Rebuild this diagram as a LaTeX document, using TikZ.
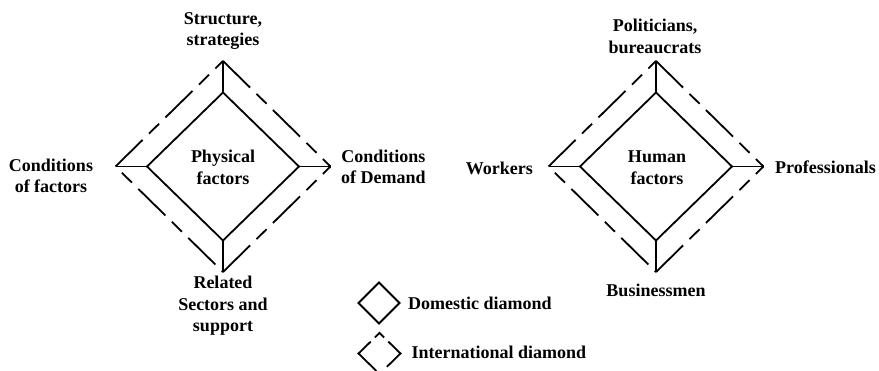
\documentclass[tikz,border=0pt]{standalone}
\usepackage{fontspec}
\setmainfont{Liberation Serif}
\usetikzlibrary{calc}
\begin{document}
\begin{tikzpicture}[x=1pt,y=-1pt,
  lbl/.style={font=\fontsize{18}{21.5}\selectfont\bfseries, inner sep=0pt, align=center},
  solidline/.style={line width=1.8pt, line join=miter, line cap=butt},
  dashline/.style={line width=1.8pt, line cap=butt, dash pattern=on 38pt off 9pt on 14pt off 9pt},
  dashgap/.style={dashline, dash phase=38pt},
  smalldash/.style={line width=1.8pt, line join=miter}]
\useasboundingbox (0,0) rectangle (879,371);

% ---- diamond of physical factors ----
\coordinate (p-it) at (223,92.5);
\coordinate (p-ir) at (299,166.5);
\coordinate (p-ib) at (223,240.5);
\coordinate (p-il) at (147,166.5);
\coordinate (p-ot) at (223,61);
\coordinate (p-or) at (330.5,166.5);
\coordinate (p-ob) at (223,272);
\coordinate (p-ol) at (115.5,166.5);
\draw[solidline] (p-it) -- (p-ir) -- (p-ib) -- (p-il) -- cycle;
\draw[solidline] (p-it) -- (p-ot);
\draw[solidline] (p-ir) -- (p-or);
\draw[solidline] (p-ib) -- (p-ob);
\draw[solidline] (p-il) -- (p-ol);
\draw[dashline] (p-ol) -- (p-ot);
\draw[dashline] (p-ot) -- (p-or);
\draw[dashline] (p-ob) -- (p-or);
\draw[dashgap]  (p-ol) -- (p-ob);

\node[lbl] (p-center) at (223,167.5) {Physical\\factors};
\node[lbl] (p-top) at (223,31) {Structure,\\strategies};
\node[lbl] (p-left) at (51,176) {Conditions\\of factors};
\node[lbl, anchor=west] (p-right) at (341,167) {Conditions\\of Demand};
\node[lbl] (p-bottom) at (223,306) {Related\\Sectors and\\support};

% ---- diamond of human factors ----
\coordinate (h-it) at (656,92.5);
\coordinate (h-ir) at (732,166.5);
\coordinate (h-ib) at (656,240.5);
\coordinate (h-il) at (580,166.5);
\coordinate (h-ot) at (656,61);
\coordinate (h-or) at (763.5,166.5);
\coordinate (h-ob) at (656,272);
\coordinate (h-ol) at (548.5,166.5);
\draw[solidline] (h-it) -- (h-ir) -- (h-ib) -- (h-il) -- cycle;
\draw[solidline] (h-it) -- (h-ot);
\draw[solidline] (h-ir) -- (h-or);
\draw[solidline] (h-ib) -- (h-ob);
\draw[solidline] (h-il) -- (h-ol);
\draw[dashline] (h-ol) -- (h-ot);
\draw[dashline] (h-ot) -- (h-or);
\draw[dashline] (h-ob) -- (h-or);
\draw[dashgap]  (h-ol) -- (h-ob);

\node[lbl] (h-center) at (657,167.5) {Human\\factors};
\node[lbl] (h-top) at (655,36.5) {Politicians,\\bureaucrats};
\node[lbl, anchor=east] (h-left) at (533,168) {Workers};
\node[lbl, anchor=west] (h-right) at (775,167) {Professionals};
\node[lbl] (h-bottom) at (656,290) {Businessmen};

% ---- legend ----
\coordinate (d-t) at (379,282.5);
\coordinate (d-r) at (399.5,303);
\coordinate (d-b) at (379,323.5);
\coordinate (d-l) at (358.5,303);
\draw[smalldash] (d-t) -- (d-r) -- (d-b) -- (d-l) -- cycle;
\node[lbl, anchor=west] (dom) at (408,303) {Domestic diamond};

\coordinate (i-t) at (379.5,333);
\coordinate (i-r) at (400.5,353.5);
\coordinate (i-b) at (379.5,374);
\coordinate (i-l) at (358.5,353.5);
\draw[smalldash] ($(i-t)!0.22!(i-l)$) -- (i-t) -- ($(i-t)!0.22!(i-r)$);
\draw[smalldash] ($(i-t)!0.42!(i-l)$) -- (i-l) -- ($(i-l)!0.85!(i-b)$);
\draw[smalldash] ($(i-t)!0.42!(i-r)$) -- (i-r) -- ($(i-r)!0.65!(i-b)$);
\node[lbl, anchor=west] (intl) at (411.5,352.5) {International diamond};
\end{tikzpicture}
\end{document}
